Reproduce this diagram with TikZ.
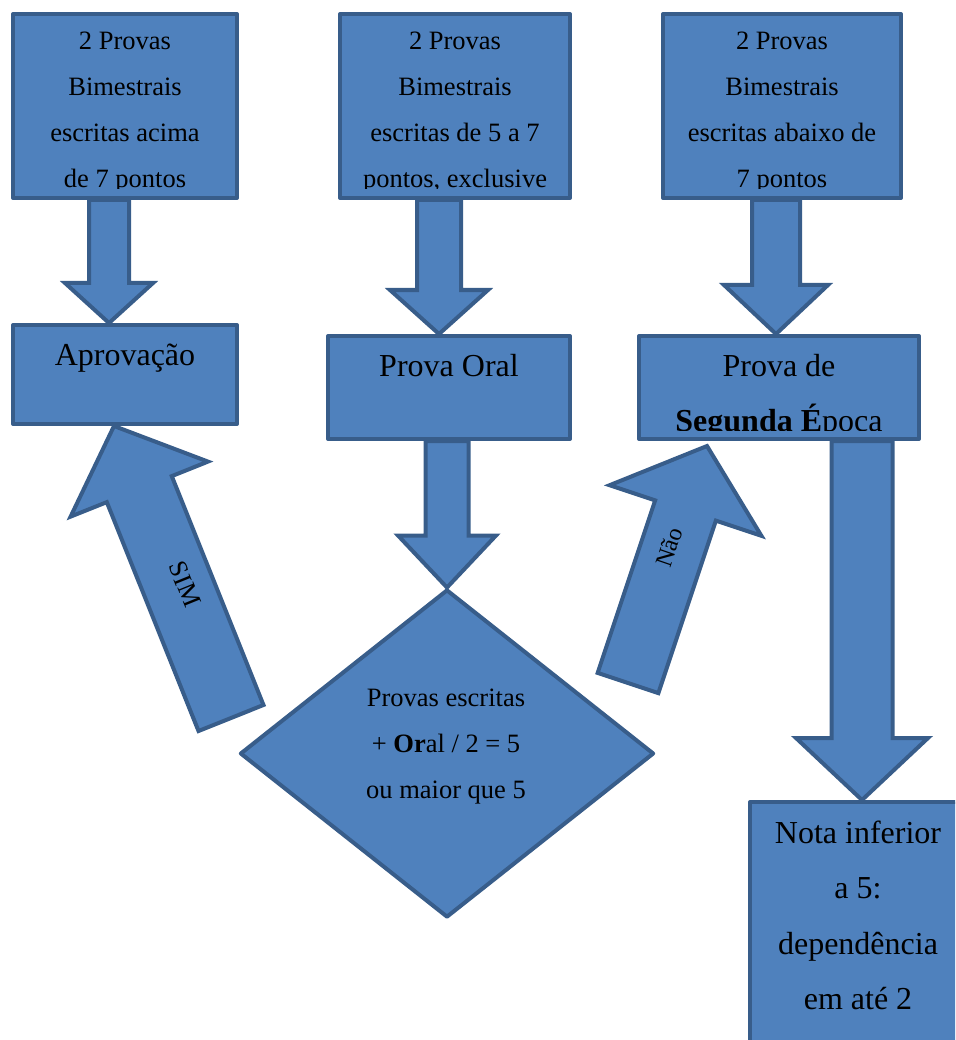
\documentclass[tikz,border=0pt]{standalone}
\usepackage{fontspec}
\setmainfont{Liberation Serif}
\usetikzlibrary{calc, shapes.geometric}

\definecolor{boxfill}{HTML}{4F81BD}
\definecolor{boxline}{HTML}{385D8A}

% block arrow: tail, tip, half shaft, half head, head length
\newcommand{\blockarrow}[5]{%
  \coordinate (ba) at ($(#2)!#5!(#1)$);
  \draw[blk] ($(#1)!#3!90:(#2)$) -- ($(ba)!#3!90:(#2)$) -- ($(ba)!#4!90:(#2)$) -- (#2)
    -- ($(ba)!#4!-90:(#2)$) -- ($(ba)!#3!-90:(#2)$) -- ($(#1)!#3!-90:(#2)$) -- cycle;}

\begin{document}
\begin{tikzpicture}[x=1pt, y=-1pt,
    box/.style={draw=boxline, fill=boxfill, line width=4pt, line join=round, inner sep=0pt},
    blk/.style={draw=boxline, fill=boxfill, line width=4pt},
    txt/.style={font=\fontsize{26.5}{46}\selectfont, inner sep=0pt},
    big/.style={font=\fontsize{32}{56}\selectfont, inner sep=0pt}]
  \useasboundingbox (0,0) rectangle (955,1040);
  \clip (0,0) rectangle (955,1040);

  % boxes
  \node[box, minimum width=224, minimum height=184] (t1) at (125,106) {};
  \node[box, minimum width=230, minimum height=184] (t2) at (455,106) {};
  \node[box, minimum width=238, minimum height=184] (t3) at (782,106) {};
  \node[box, minimum width=224, minimum height=99] (ap) at (125,374.5) {};
  \node[box, minimum width=242, minimum height=103] (po) at (449,387.5) {};
  \node[box, minimum width=280, minimum height=103] (se) at (779,387.5) {};
  \node[box, minimum width=216, minimum height=258] (nota) at (858,931) {};
  \node[box, diamond, minimum width=414, minimum height=328] (dec) at (447,753.5) {};

  % arrows
  \coordinate (s1) at ($(t1.south)+(-16,0)$);
  \coordinate (e1) at (s1 |- ap.north);
  \coordinate (s2) at ($(t2.south)+(-16,0)$);
  \coordinate (e2) at (s2 |- po.north);
  \coordinate (s3) at ($(t3.south)+(-6,0)$);
  \coordinate (e3) at (s3 |- se.north);
  \coordinate (s4) at (dec.north |- po.south);
  \coordinate (s5) at ($(se.south)+(83,0)$);
  \coordinate (e5) at (s5 |- nota.north);
  \coordinate (s6) at (231,718);
  \coordinate (e6) at ($(ap.south)+(-11,0)$);
  \coordinate (s7) at (628,683);
  \coordinate (e7) at ($(se.south west)+(70,5)$);
  \blockarrow{s1}{e1}{20pt}{44pt}{40pt}
  \blockarrow{s2}{e2}{22pt}{49pt}{44pt}
  \blockarrow{s3}{e3}{24pt}{52pt}{49pt}
  \blockarrow{s4}{dec.north}{21.5pt}{49pt}{52pt}
  \blockarrow{s5}{e5}{30.5pt}{66pt}{62pt}
  \blockarrow{s6}{e6}{35pt}{74pt}{68pt}
  \blockarrow{s7}{e7}{32pt}{80pt}{68pt}

  % texts
  \begin{scope}
    \clip (t1.north west) rectangle ($(t1.south east)+(0,-11)$);
    \foreach \l [count=\i] in {2 Provas, Bimestrais, escritas acima, de 7 pontos}
      \node[txt, anchor=base] (t1-\i) at ($(t1.north)+(0,{38+46*(\i-1)})$) {\l};
  \end{scope}
  \begin{scope}
    \clip (t2.north west) rectangle ($(t2.south east)+(0,-11)$);
    \foreach \l [count=\i] in {2 Provas, Bimestrais, escritas de 5 a 7, {pontos, exclusive}}
      \node[txt, anchor=base] (t2-\i) at ($(t2.north)+(0,{38+46*(\i-1)})$) {\l};
  \end{scope}
  \begin{scope}
    \clip (t3.north west) rectangle ($(t3.south east)+(0,-11)$);
    \foreach \l [count=\i] in {2 Provas, Bimestrais, escritas abaixo de, 7 pontos}
      \node[txt, anchor=base] (t3-\i) at ($(t3.north)+(0,{38+46*(\i-1)})$) {\l};
  \end{scope}
  \node[big, anchor=base] (ap-1) at ($(ap.north)+(0,42)$) {Aprovação};
  \node[big, anchor=base] (po-1) at ($(po.north)+(0,42)$) {Prova Oral};
  \begin{scope}
    \clip (se.north west) rectangle ($(se.south east)+(0,-11)$);
    \node[big, anchor=base] (se-1) at ($(se.north)+(0,42)$) {Prova de};
    \node[big, anchor=base] (se-2) at ($(se.north)+(0,97.5)$) {\textbf{Segunda É}poca};
  \end{scope}
  \foreach \l [count=\i] in {Nota inferior, a 5:, dependência, em até 2}
    \node[big, anchor=base] (nota-\i) at ($(nota.north)+(0,{43+55.5*(\i-1)})$) {\l};
  \foreach \l [count=\i] in {Provas escritas, {+ \textbf{Or}al / 2 = 5}, ou maior que 5}
    \node[txt, anchor=base] (dec-\i) at ($(dec.center)+(-1,{-47.5+46*(\i-1)})$) {\l};
  \node[txt, font=\fontsize{26}{30}\selectfont, rotate=-68] (sim) at (185,584) {SIM};
  \node[txt, font=\fontsize{24}{28}\selectfont, rotate=71] (nao) at (669,547) {Não};
\end{tikzpicture}
\end{document}
